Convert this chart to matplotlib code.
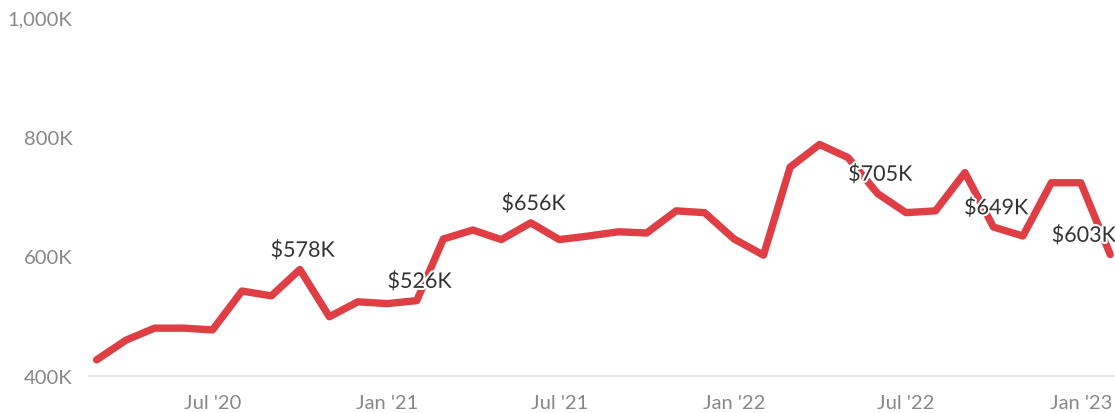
import matplotlib
matplotlib.use("Agg")
import matplotlib.pyplot as plt
import matplotlib.dates as mdates
import matplotlib.patheffects as pe
import matplotlib.ticker as mticker
import pandas as pd

# monthly values, Mar 2020 - Feb 2023 (thousands of $)
months = pd.date_range("2020-03-01", "2023-02-01", freq="MS")
values = [427, 460, 480, 480, 477, 542, 534, 578, 499, 524, 521, 526,
          629, 644, 628, 656, 628, 634, 641, 639, 676, 673, 629, 602,
          749, 787, 765, 705, 673, 676, 740, 649, 634, 723, 723, 603]
labelled = ["2020-10-01", "2021-02-01", "2021-06-01",
            "2022-06-01", "2022-10-01", "2023-02-01"]
yticks = [400, 600, 800, 1000]

plt.rcParams["font.family"] = ["Lato", "DejaVu Sans"]

fig = plt.figure(figsize=(11.15, 4.14), dpi=100)
ax = fig.add_axes([89 / 1115, 37 / 414, 1 - 89 / 1115, (377 - 18) / 414])

ax.plot(months, values, color="#e03e45", lw=5.3, solid_capstyle="round",
        solid_joinstyle="round", zorder=2)

halo = [pe.withStroke(linewidth=3, foreground="white")]
for d in labelled:
    i = list(months).index(pd.Timestamp(d))
    last = i == len(months) - 1
    ax.annotate("${}K".format(values[i]), (months[i], values[i]),
                xytext=(4 if last else 2, 13.5), textcoords="offset points",
                ha="right" if last else "center", va="center",
                fontsize=15.5, color="#333333", path_effects=halo, zorder=3)

ax.set_ylim(400, 1000)
ax.set_xlim(months[0] - pd.Timedelta(days=8), months[-1] + pd.Timedelta(days=5))
ax.set_yticks(yticks)
ax.yaxis.set_major_formatter(mticker.FuncFormatter(lambda v, p: "{:,.0f}K".format(v)))
ax.xaxis.set_major_locator(mdates.MonthLocator(bymonth=[1, 7]))
ax.xaxis.set_major_formatter(mdates.DateFormatter("%b '%y"))

ax.tick_params(length=0, labelsize=14.5, labelcolor="#888888")
ax.tick_params(axis="y", pad=12)
ax.tick_params(axis="x", pad=13)
for s in ax.spines.values():
    s.set_visible(False)
ax.axhline(400, color="#e6e6e6", lw=1.5, zorder=1, clip_on=False)

fig.savefig("out.png", dpi=100)
